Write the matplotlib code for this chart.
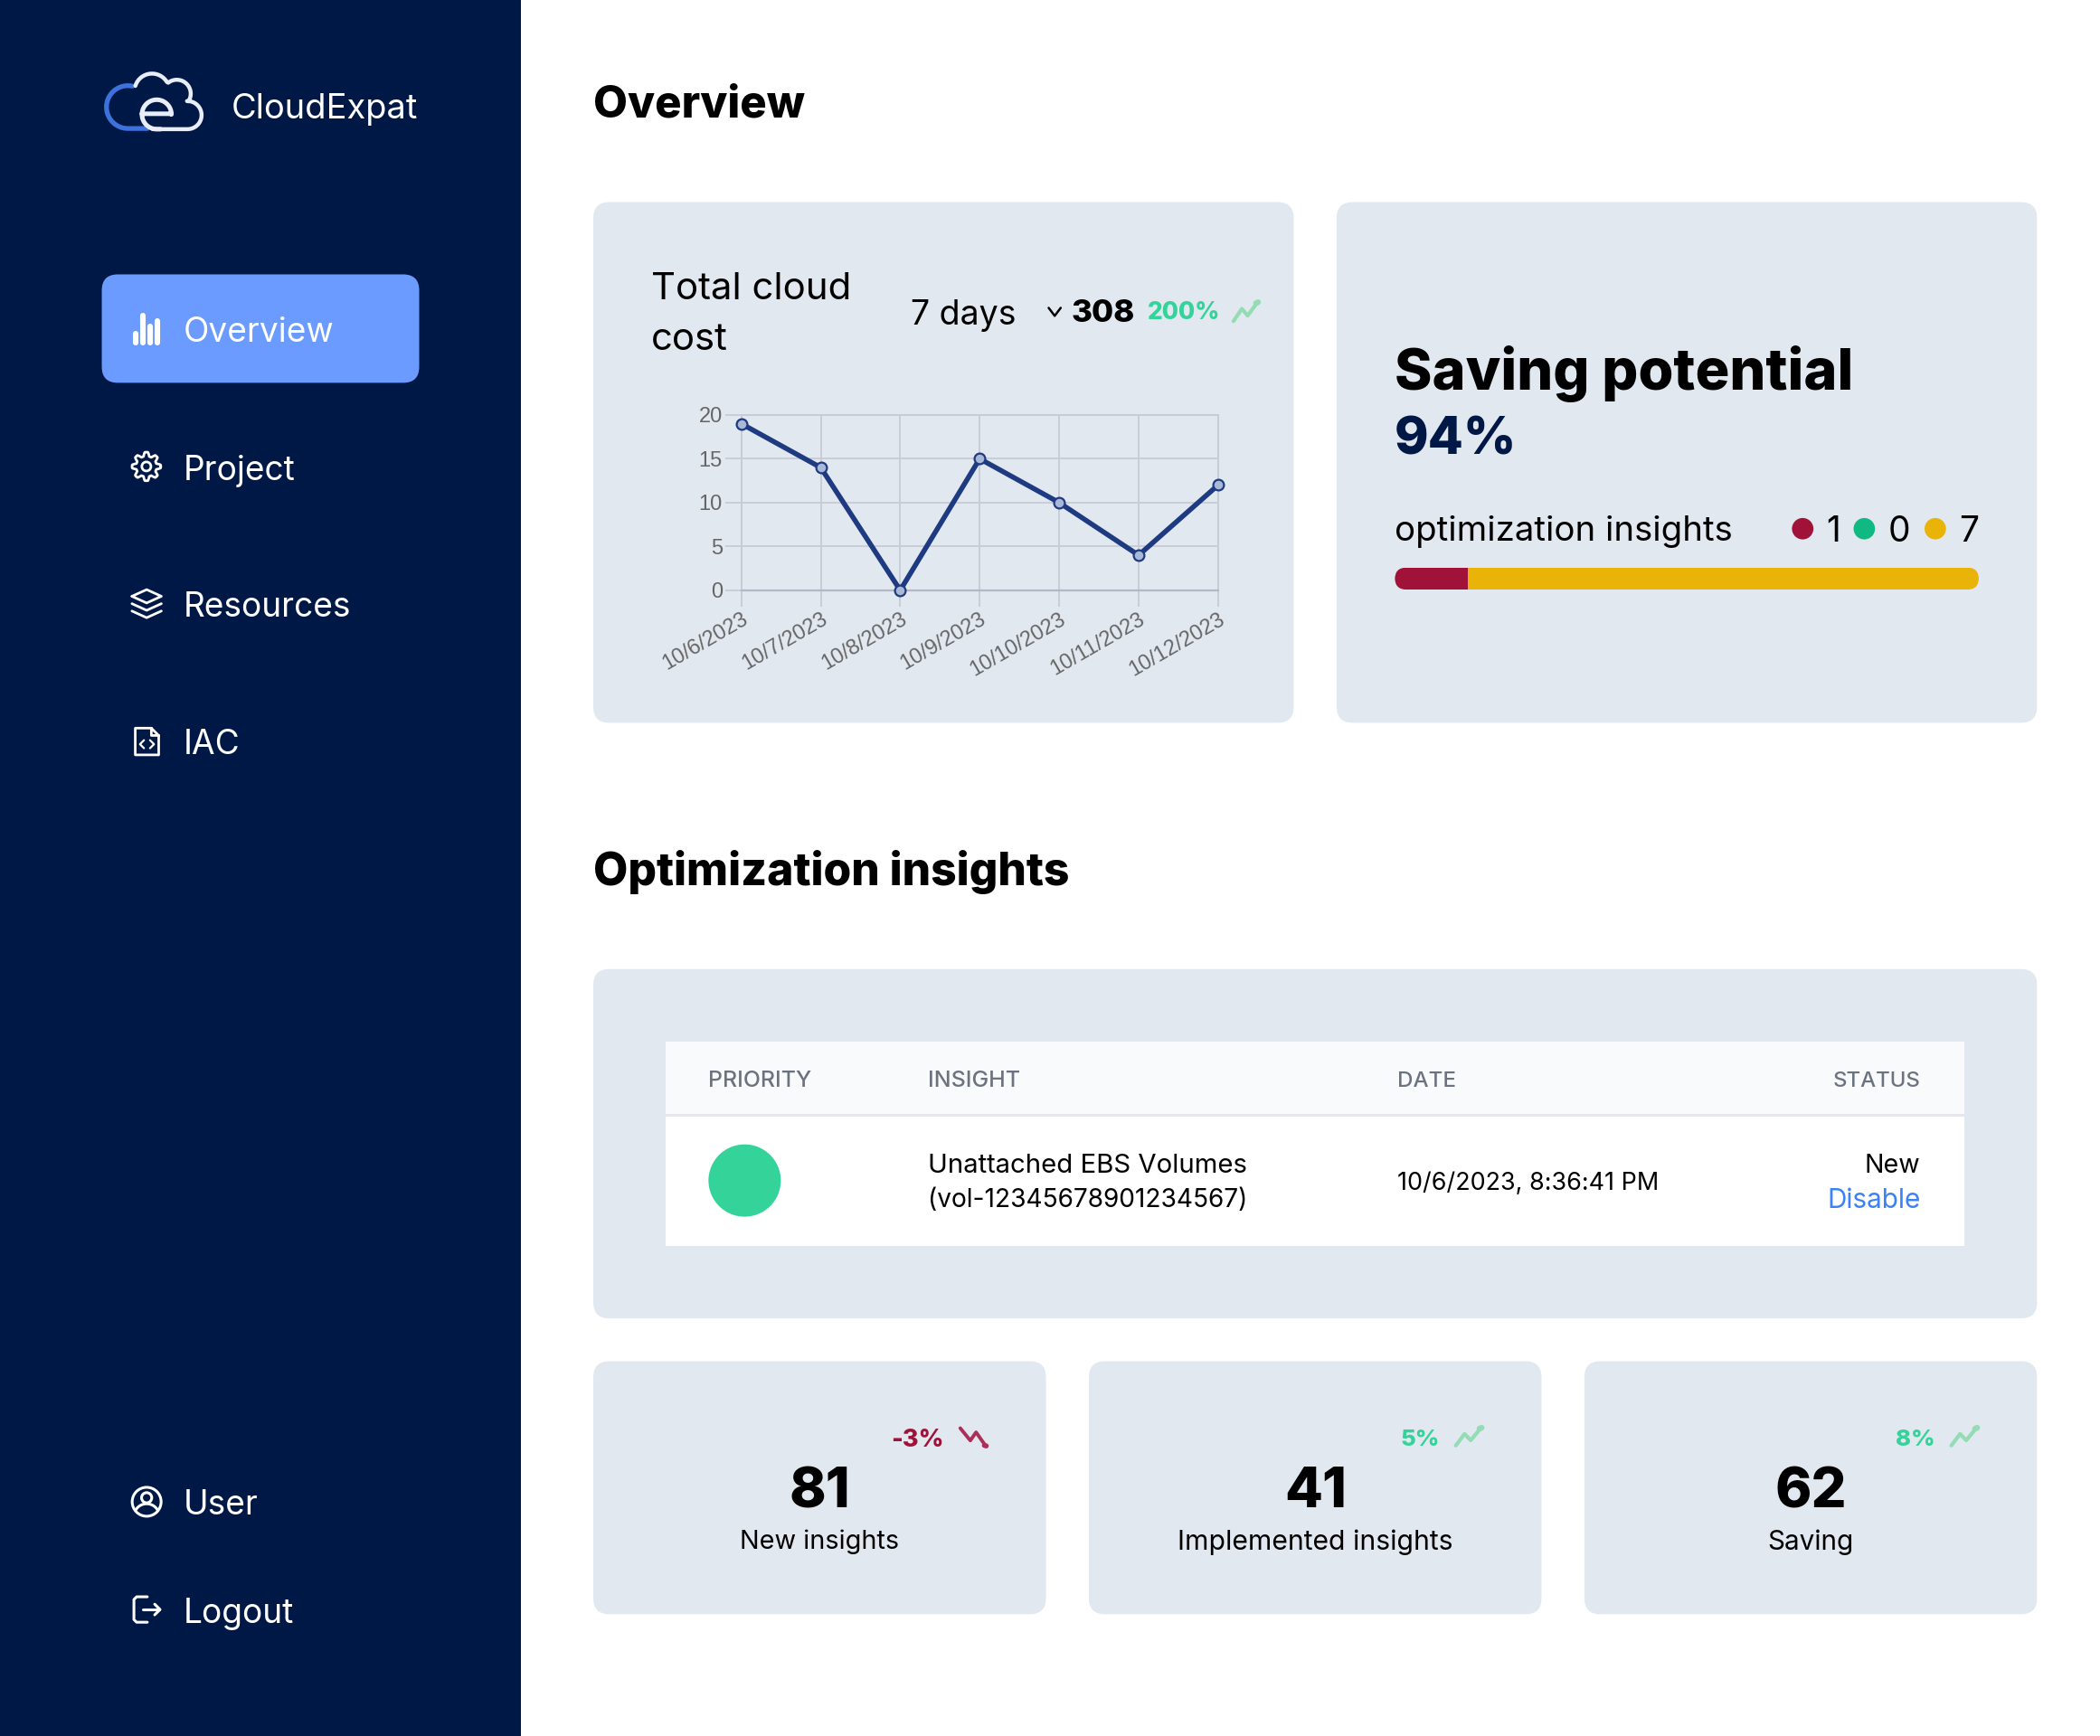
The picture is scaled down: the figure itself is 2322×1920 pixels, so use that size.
import numpy as np
import matplotlib
matplotlib.use("Agg")
import matplotlib.pyplot as plt
from matplotlib.patches import FancyBboxPatch, Circle, Rectangle

plt.rcParams['font.family'] = ['Inter', 'DejaVu Sans']

# Chart data
DAYS = ["10/6/2023", "10/7/2023", "10/8/2023", "10/9/2023", "10/10/2023", "10/11/2023", "10/12/2023"]
COST = [19, 14, 0, 15, 10, 4, 12]
COST_TICKS = [0, 5, 10, 15, 20]

# Insight counts: red, green, yellow
INSIGHT_COUNTS = [1, 0, 7]
INSIGHT_COLORS = ["#a01238", "#10b981", "#eab308"]

# Small cards
KPI_VALUES = ["81", "41", "62"]
KPI_LABELS = ["New insights", "Implemented insights", "Saving"]
KPI_LABEL_SIZES = [20.8, 21.7, 21.4]
KPI_DELTAS = ["-3%", "5%", "8%"]
KPI_DELTA_SIZES = [19.5, 18.6, 18.6]

MENU_TOP = ["Overview", "Project", "Resources", "IAC"]
MENU_BOTTOM = ["User", "Logout"]
TABLE_HEAD = ["PRIORITY", "INSIGHT", "DATE", "STATUS"]
TABLE_HEAD_SIZES = [17.9, 18, 17.4, 17.3]

W, H = 1568.0, 1297.0
NAVY = "#001845"
CARD = "#e2e8f0"
GREEN = "#34d399"
LIGHT_GREEN = "#93dcb4"
RED = "#a01238"
HEAVY = 800

fig = plt.figure(figsize=(23.22, 19.20), dpi=100, facecolor="white")
ax = fig.add_axes([0, 0, 1, 1])
ax.set_xlim(0, W)
ax.set_ylim(H, 0)
ax.axis("off")


def box(x0, y0, x1, y1, color, r=12, z=1):
    p = FancyBboxPatch((x0 + r, y0 + r), x1 - x0 - 2 * r, y1 - y0 - 2 * r,
                       boxstyle="round,pad=%f,rounding_size=%f" % (r, r),
                       fc=color, ec="none", zorder=z)
    ax.add_patch(p)
    return p


def txt(x, y, s, size, color="black", weight="normal", ha="left"):
    return ax.text(x, y, s, fontsize=size, color=color, fontweight=weight, ha=ha,
                   va="center_baseline", zorder=5)


def arc(cx, cy, r, a0, a1, n=40):
    a = np.radians(np.linspace(a0, a1, n))
    return cx + r * np.cos(a), cy - r * np.sin(a)


def stroke(xs, ys, color="white", lw=2.6, z=6):
    ax.plot(xs, ys, color=color, lw=lw, solid_capstyle="round", solid_joinstyle="round", zorder=z)


def trend(x0, y0, x1, y1, color):
    # little zigzag arrow, up
    w, h = x1 - x0, y1 - y0
    xs = [x0, x0 + .31 * w, x0 + .53 * w, x0 + .9 * w]
    ys = [y1, y0 + .38 * h, y0 + .72 * h, y0 + .05 * h]
    stroke(xs, ys, color, 3)
    stroke([x0 + .84 * w, x0 + .92 * w], [y0 + .1 * h, y0 + .05 * h], color, 4.5)


def trend_down(x0, y0, x1, y1, color):
    w, h = x1 - x0, y1 - y0
    xs = [x0, x0 + .375 * w, x0 + .59 * w, x0 + .95 * w]
    ys = [y0, y0 + .66 * h, y0 + .22 * h, y1 - .05 * h]
    stroke(xs, ys, color, 2.8)
    stroke([x0 + .9 * w, x0 + .97 * w], [y1 - .08 * h, y1 - .05 * h], color, 4)


# Sidebar
ax.add_patch(Rectangle((0, 0), 389, H, fc=NAVY, ec="none", zorder=1))

# Logo
x, y = arc(95.5, 80, 16, 78, 270)
stroke(np.r_[x, 110], np.r_[y, 96], "#3d71dc", 3.8)
x1, y1 = arc(113.5, 68, 13, 163, 31)
x2, y2 = arc(132, 70, 10.4, 128, -33)
x3, y3 = arc(140, 86, 10.5, 92, -90)
stroke(np.r_[x1, x2, x3, 114], np.r_[y1, y2, y3, 96.5], "#e8edf8", 3.2)
x4, y4 = arc(117, 85.5, 11, 0, 270)
stroke(np.r_[106, 128, x4, 120], np.r_[85, 85, y4, 96.5], "#e8edf8", 3.6)
txt(173, 79, "CloudExpat", 27.4, "white")

# Menu
box(76, 205, 313, 286, "#6b9bff", r=12, z=2)
for label, yy in zip(MENU_TOP, [246, 349, 451, 554]):
    txt(137, yy, label, 26.7, "white")
for label, yy in zip(MENU_BOTTOM, [1122, 1203]):
    txt(137, yy, label, 26.7, "white")

# Overview icon
for bx_, top in zip([101.5, 107, 112, 117.5], [249, 236, 244, 240]):
    stroke([bx_, bx_], [top, 256], "white", 4.4)

# Project icon, gear
ang = np.radians(np.arange(0, 361, 2))
rad = 9.2 + 1.5 * np.clip(1.6 * np.cos(8 * ang), -1, 1)
ax.plot(109.3 + rad * np.cos(ang), 348.5 + rad * np.sin(ang), color="white", lw=2, zorder=6)
ax.add_patch(Circle((109.3, 348.5), 3.4, fc="none", ec="white", lw=2, zorder=6))

# Resources icon, layers
stroke([98.5, 109.5, 120.5, 109.5, 98.5], [445.5, 440.5, 445.5, 450.5, 445.5], "white", 2)
stroke([98.5, 109.5, 120.5], [451, 456, 451], "white", 2)
stroke([98.5, 109.5, 120.5], [456.5, 461.5, 456.5], "white", 2)

# IAC icon, code file
stroke([113, 101, 101, 118.5, 118.5, 113, 113, 118.5], [544, 544, 564, 564, 549.5, 544, 549.5, 549.5], "white", 2)
stroke([107.5, 104.5, 107.5], [553, 556, 559], "white", 1.6)
stroke([112, 115, 112], [553, 556, 559], "white", 1.6)

# User icon
ax.add_patch(Circle((109.5, 1122), 10.8, fc="none", ec="white", lw=2.2, zorder=6))
ax.add_patch(Circle((109.5, 1119), 3.8, fc="none", ec="white", lw=2.2, zorder=6))
x, y = arc(109.5, 1133, 9.5, 150, 30)
stroke(x, y, "white", 2.2)

# Logout icon
stroke([110, 102, 100, 100, 102, 110], [1193, 1193, 1195, 1210, 1212, 1212], "white", 2.2)
stroke([107, 119], [1202.5, 1202.5], "white", 2.2)
stroke([115.5, 119.5, 115.5], [1198.5, 1202.5, 1206.5], "white", 2.2)

# Headings
txt(443, 75, "Overview", 35.3, "black", HEAVY)
txt(443, 648, "Optimization insights", 35.8, "black", HEAVY)

# Cards
box(443, 151, 966, 540, CARD)
box(998, 151, 1521, 540, CARD)
box(443, 724, 1521, 985, CARD)
for cx0 in [443, 813, 1183]:
    box(cx0, 1017, cx0 + 338, 1206, CARD)

# Total cost card
txt(486, 213.5, "Total cloud", 30.2)
txt(486, 251.5, "cost", 30.2)
txt(680, 233, "7 days", 27)
stroke([783, 787.5, 792], [230, 236, 230], "black", 1.8)
txt(800, 232, "308", 25.2, "black", HEAVY)
txt(857, 232, "200%", 19, GREEN, HEAVY)
trend(921, 225, 941, 240, LIGHT_GREEN)

# Line chart
cx = fig.add_axes([553.5 / W, 1 - 441 / H, (909.5 - 553.5) / W, (441 - 310) / H], facecolor="none")
cx.plot(range(len(COST)), COST, color="#1e3a80", lw=4, marker="o", ms=8.5,
        mfc="#a9b8d6", mec="#1e3a80", mew=1.6, clip_on=False, zorder=3)
cx.set_xlim(0, len(DAYS) - 1)
cx.set_ylim(0, 20)
cx.set_yticks(COST_TICKS)
cx.set_xticks(range(len(DAYS)))
cx.set_xticklabels(DAYS, rotation=30, ha="right", rotation_mode="anchor", family="Liberation Sans",
                   fontsize=17, color="#666666")
cx.set_yticklabels(COST_TICKS, family="Liberation Sans", fontsize=17, color="#666666")
cx.grid(True, color="#c8cbd6", lw=1.3)
cx.set_axisbelow(True)
cx.tick_params(length=13, width=1.3, color="#c8cbd6", pad=2)
for sp in cx.spines.values():
    sp.set_color("#c8cbd6")
    sp.set_linewidth(1.3)
cx.spines["bottom"].set_color("#b4b8c6")
cx.spines["bottom"].set_linewidth(1.6)

# Saving potential card
txt(1041, 274.5, "Saving potential", 45.4, "black", HEAVY)
txt(1041, 325, "94%", 41, NAVY, HEAVY)
txt(1041, 394.5, "optimization insights", 27.6)
for col, dx, tx, val in zip(INSIGHT_COLORS, [1346, 1392, 1445], [1369, 1418, 1470], INSIGHT_COUNTS):
    ax.add_patch(Circle((dx, 395), 8, fc=col, ec="none", zorder=5))
    txt(tx, 395, str(val), 28, ha="center")

bx = fig.add_axes([1041.5 / W, 1 - 440.5 / H, (1477.5 - 1041.5) / W, 16.5 / H], facecolor="none")
bx.axis("off")
bx.set_xlim(0, sum(INSIGHT_COUNTS))
bx.set_ylim(0, 1)
left = 0
clip = FancyBboxPatch((0, 0), sum(INSIGHT_COUNTS), 1, boxstyle="round,pad=0,rounding_size=0.16",
                      mutation_aspect=436 / 16.5 / sum(INSIGHT_COUNTS), transform=bx.transData)
for val, col in zip(INSIGHT_COUNTS, INSIGHT_COLORS):
    rect = bx.barh(0.5, val, left=left, height=1, color=col)[0]
    rect.set_clip_path(clip)
    left += val

# Insight table
ax.add_patch(Rectangle((497, 778), 970, 153, fc="white", ec="none", zorder=2))
ax.add_patch(Rectangle((497, 778), 970, 54, fc="#f9fafb", ec="none", zorder=3))
ax.add_patch(Rectangle((497, 832), 970, 2, fc="#e5e7eb", ec="none", zorder=3))
for label, hx, ha, hs in zip(TABLE_HEAD, [529, 693, 1043.5, 1434], ["left", "left", "left", "right"], TABLE_HEAD_SIZES):
    txt(hx, 806, label, hs, "#6b7280", "medium", ha=ha)
ax.add_patch(Circle((556, 882), 27, fc=GREEN, ec="none", zorder=5))
txt(693, 869, "Unattached EBS Volumes", 21.1)
txt(693, 895, "(vol-12345678901234567)", 20.2)
txt(1043.5, 882, "10/6/2023, 8:36:41 PM", 19.4)
txt(1434, 869, "New", 20.6, ha="right")
txt(1434, 895, "Disable", 21.4, "#3b82f6", ha="right")

# KPI cards
for i, cx0 in enumerate([443, 813, 1183]):
    mid = cx0 + 169
    txt(mid, 1111, KPI_VALUES[i], 44, "black", HEAVY, ha="center")
    txt(mid, 1150, KPI_LABELS[i], KPI_LABEL_SIZES[i], ha="center")
    neg = KPI_DELTAS[i].startswith("-")
    txt(cx0 + 262, 1074, KPI_DELTAS[i], KPI_DELTA_SIZES[i], RED if neg else GREEN, HEAVY, ha="right")
    if neg:
        trend_down(cx0 + 274, 1067, cx0 + 294, 1081, "#a8305a")
    else:
        trend(cx0 + 274, 1066, cx0 + 295, 1080, LIGHT_GREEN)

fig.savefig("out.png", dpi=100, facecolor="white")
